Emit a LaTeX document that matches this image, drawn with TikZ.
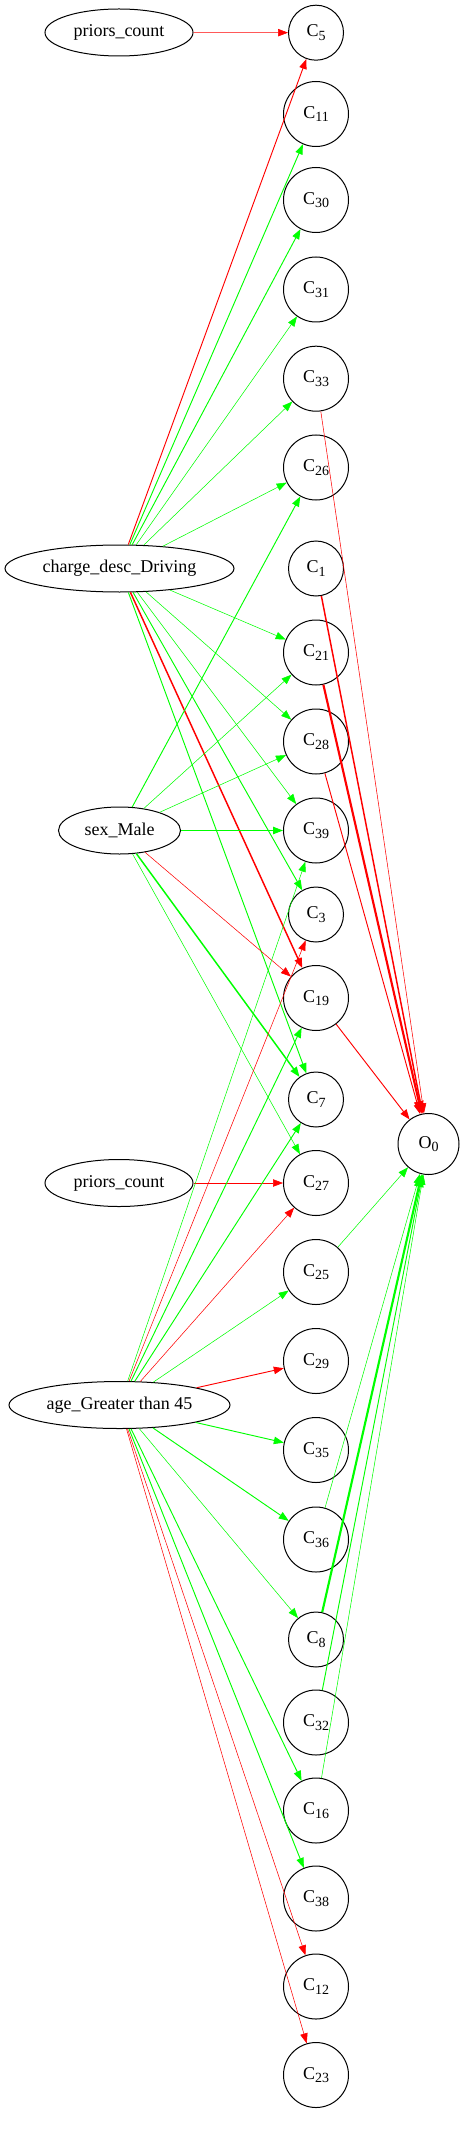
\documentclass[tikz,border=0pt]{standalone}
\usepackage{fontspec}
\setmainfont{Liberation Serif}
\usetikzlibrary{arrows.meta,shapes.geometric}
\definecolor{posgreen}{RGB}{0,255,0}
\definecolor{negred}{RGB}{255,0,0}
\newcommand{\lowidx}[1]{\raisebox{-0.45ex}{\fontsize{10.5}{12}\selectfont#1}}
\begin{document}
\begin{tikzpicture}[x=0.75pt,y=-0.75pt,
	feat/.style={ellipse,draw,line width=0.75pt,minimum height=35.25pt,inner sep=0pt,font=\fontsize{13.5}{16}\selectfont},
	unit/.style={circle,draw,line width=0.75pt,minimum size=48.75pt,inner sep=0pt,font=\fontsize{13.5}{16}\selectfont},
	small/.style={unit,minimum size=41.25pt},
	posedge/.style={-{Triangle[length=7.5pt,width=5.6pt]},posgreen,line width=0.7pt},
	negedge/.style={-{Triangle[length=7.5pt,width=5.6pt]},negred,line width=0.7pt},
	faint/.style={line width=0.4pt},
	heavy/.style={line width=1.1pt},
	heavier/.style={line width=1.6pt,-{Triangle[length=9.5pt,width=7pt]}}]
				%\draw [help lines] (0,0) grid[step=50] (465,2136);
				\useasboundingbox (0,0) rectangle (465,2136);
				% inputs
				\node[feat,minimum width=111pt] (priorsA) at (119,32.5) {priors\_count};
				\node[feat,minimum width=171.75pt] (charge) at (119.5,568.5) {charge\_desc\_Driving};
				\node[feat,minimum width=91.5pt] (sex) at (119.5,830.5) {sex\_Male};
				\node[feat,minimum width=111pt] (priorsB) at (119,1183) {priors\_count};
				\node[feat,minimum width=165.75pt] (age) at (119.5,1405) {age\_Greater than 45};
				% hidden units
				\node[small] (c5) at (316,32.7) {C\lowidx{5}};
				\node[unit] (c11) at (316,114) {C\lowidx{11}};
				\node[unit] (c30) at (316,200) {C\lowidx{30}};
				\node[unit] (c31) at (316,289.5) {C\lowidx{31}};
				\node[unit] (c33) at (316,378.7) {C\lowidx{33}};
				\node[unit] (c26) at (316,467.5) {C\lowidx{26}};
				\node[small] (c1) at (316,568.5) {C\lowidx{1}};
				\node[unit] (c21) at (316,652.5) {C\lowidx{21}};
				\node[unit] (c28) at (316,741.5) {C\lowidx{28}};
				\node[unit] (c39) at (316,830.5) {C\lowidx{39}};
				\node[small] (c3) at (316,914.5) {C\lowidx{3}};
				\node[unit] (c19) at (316,998) {C\lowidx{19}};
				\node[small] (c7) at (316,1099.5) {C\lowidx{7}};
				\node[unit] (c27) at (316,1183) {C\lowidx{27}};
				\node[unit] (c25) at (316,1272) {C\lowidx{25}};
				\node[unit] (c29) at (316,1361) {C\lowidx{29}};
				\node[unit] (c35) at (316,1450) {C\lowidx{35}};
				\node[unit] (c36) at (316,1539.5) {C\lowidx{36}};
				\node[small] (c8) at (316,1639.5) {C\lowidx{8}};
				\node[unit] (c32) at (316,1722.5) {C\lowidx{32}};
				\node[unit] (c16) at (316,1810.5) {C\lowidx{16}};
				\node[unit] (c38) at (316,1898.5) {C\lowidx{38}};
				\node[unit] (c12) at (316,1986.5) {C\lowidx{12}};
				\node[unit] (c23) at (316,2075) {C\lowidx{23}};
				% output
				\node[unit,minimum size=45.75pt] (o0) at (428.5,1144) {O\lowidx{0}};
				% priors_count
				\draw[negedge,faint] (priorsA) -- (c5);
				\draw[negedge,faint] (priorsB) -- (c27);
				% charge_desc_Driving
				\draw[negedge] (charge) -- (c5);
				\draw[posedge] (charge) -- (c11);
				\draw[posedge] (charge) -- (c30);
				\draw[posedge,faint] (charge) -- (c31);
				\draw[posedge,faint] (charge) -- (c33);
				\draw[posedge,faint] (charge) -- (c26);
				\draw[posedge,faint] (charge) -- (c21);
				\draw[posedge,faint] (charge) -- (c28);
				\draw[posedge,faint] (charge) -- (c39);
				\draw[posedge] (charge) -- (c3);
				\draw[negedge,heavy] (charge) -- (c19);
				\draw[posedge] (charge) -- (c7);
				% sex_Male
				\draw[posedge] (sex) -- (c26);
				\draw[posedge,faint] (sex) -- (c21);
				\draw[posedge,faint] (sex) -- (c28);
				\draw[posedge] (sex) -- (c39);
				\draw[negedge,faint] (sex) -- (c19);
				\draw[posedge,heavy] (sex) -- (c7);
				\draw[posedge,faint] (sex) -- (c27);
				% age_Greater than 45
				\draw[posedge,faint] (age) -- (c39);
				\draw[negedge,faint] (age) -- (c3);
				\draw[posedge] (age) -- (c19);
				\draw[posedge] (age) -- (c7);
				\draw[negedge,faint] (age) -- (c27);
				\draw[posedge,faint] (age) -- (c25);
				\draw[negedge] (age) -- (c29);
				\draw[posedge] (age) -- (c35);
				\draw[posedge] (age) -- (c36);
				\draw[posedge,faint] (age) -- (c8);
				\draw[posedge] (age) -- (c16);
				\draw[posedge] (age) -- (c38);
				\draw[negedge,faint] (age) -- (c12);
				\draw[negedge,faint] (age) -- (c23);
				% to output
				\draw[negedge,faint] (c33) -- (o0);
				\draw[negedge,heavy] (c1) -- (o0);
				\draw[negedge,heavier] (c21) -- (o0);
				\draw[negedge] (c28) -- (o0);
				\draw[negedge] (c19) -- (o0);
				\draw[posedge,faint] (c25) -- (o0);
				\draw[posedge,faint] (c36) -- (o0);
				\draw[posedge,heavier] (c8) -- (o0);
				\draw[posedge] (c32) -- (o0);
				\draw[posedge,faint] (c16) -- (o0);
\end{tikzpicture}
\end{document}
